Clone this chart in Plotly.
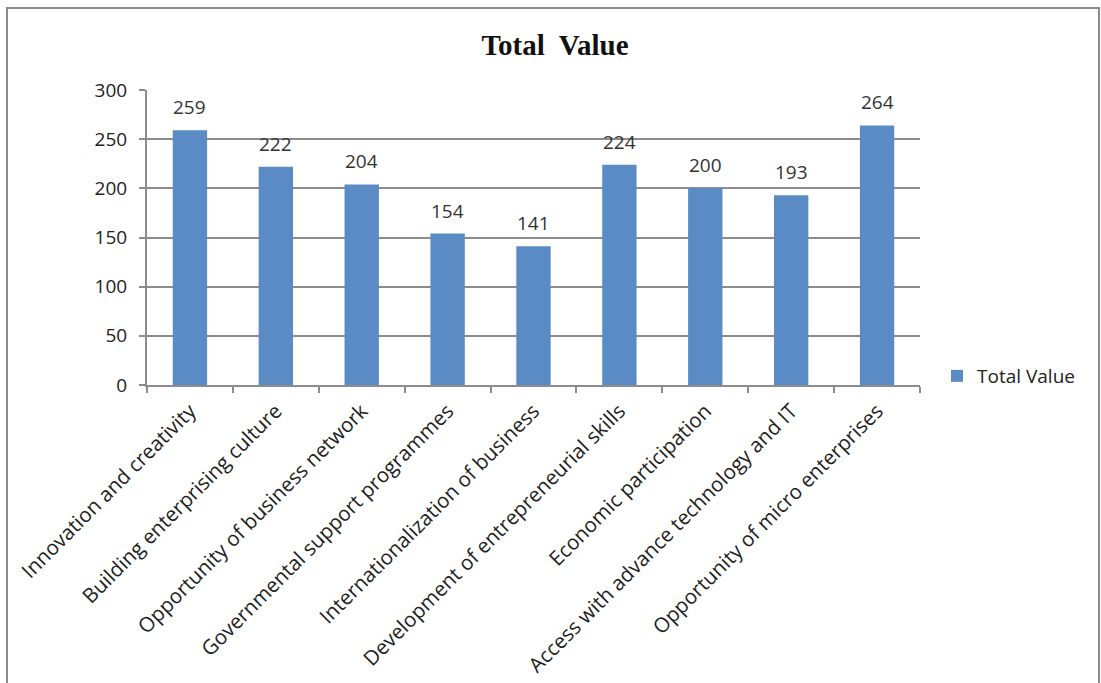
import plotly.graph_objects as go

categories = [
    "Innovation and creativity",
    "Building enterprising culture",
    "Opportunity of business network",
    "Governmental support programmes",
    "Internationalization of business",
    "Development of entrepreneurial skills",
    "Economic participation",
    "Access with advance technology and IT",
    "Opportunity of micro enterprises",
]
values = [259, 222, 204, 154, 141, 224, 200, 193, 264]
series_name = "Total Value"
y_ticks = [0, 50, 100, 150, 200, 250, 300]

W, H = 1101, 683
L, R, T, B = 147, 920, 90, 385
pw, ph = R - L, B - T

def px_x(p):
    return (p - L) / pw

def px_y(p):
    return (B - p) / ph

font_main = "Open Sans, Liberation Sans, sans-serif"

fig = go.Figure()
fig.add_trace(go.Bar(
    x=categories, y=values, name=series_name,
    marker=dict(color="#5B8BC5", line=dict(width=0)),
    showlegend=True,
))

for c, v in zip(categories, values):
    fig.add_annotation(x=c, y=v, text=str(v), showarrow=False,
                       xref="x", yref="y", yanchor="middle", yshift=23,
                       font=dict(family=font_main, size=19, color="#333333"))

fig.update_layout(
    width=W, height=H,
    margin=dict(l=L, r=W - R, t=T, b=H - B, autoexpand=False),
    paper_bgcolor="white", plot_bgcolor="white",
    bargap=0.6,
    title=dict(text="<b>Total  Value</b>", x=555 / W, xanchor="center",
               y=1 - 45 / H, yanchor="middle",
               font=dict(family="Liberation Serif, Times New Roman, serif", size=29, color="#111111")),
    legend=dict(x=px_x(937), y=px_y(376), xanchor="left", yanchor="middle",
                font=dict(family=font_main, size=19, color="#222222"),
                itemwidth=30, bgcolor="rgba(0,0,0,0)"),
    xaxis=dict(
        type="category", tickangle=-45,
        tickfont=dict(family=font_main, size=20.5, color="#222222"),
        showline=True, linecolor="#8c8c8c", linewidth=2,
        ticks="outside", tickson="boundaries", ticklen=6, tickcolor="#8c8c8c", tickwidth=2,
        ticklabelstandoff=4,
        showgrid=False, range=[-0.5, 8.5],
    ),
    yaxis=dict(
        range=[0, 300], tickvals=y_ticks,
        tickfont=dict(family=font_main, size=19, color="#222222"),
        showline=True, linecolor="#8c8c8c", linewidth=2,
        ticks="outside", ticklen=6, tickcolor="#8c8c8c", tickwidth=2,
        ticklabelstandoff=8,
        showgrid=True, gridcolor="#8c8c8c", gridwidth=1.5,
        zeroline=False,
    ),
)

fig.add_shape(type="rect", xref="paper", yref="paper",
              x0=px_x(7), x1=px_x(1099), y0=px_y(700), y1=px_y(8),
              line=dict(color="#8c8c8c", width=2), layer="below")

fig.write_html("out.html")
